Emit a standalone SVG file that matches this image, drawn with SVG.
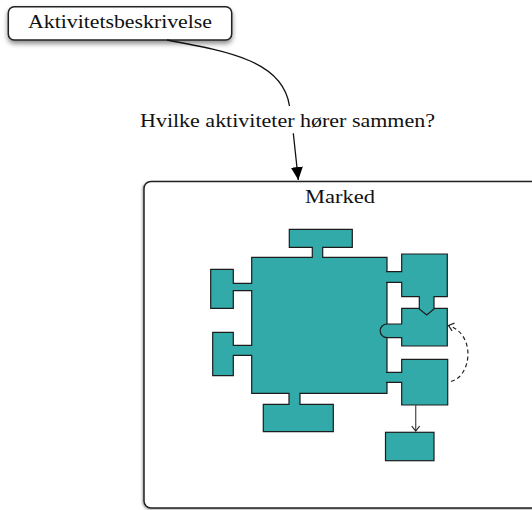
<svg xmlns="http://www.w3.org/2000/svg" width="532" height="510" viewBox="0 0 532 510">
  <style>
    .lbl { font-family: "Liberation Serif", "Times New Roman", serif; fill: #111; }
    .box { fill: #fff; stroke: #222; stroke-width: 1.5; }
    .piece { fill: #33aaaa; stroke: #1c1c1c; stroke-width: 1.2; stroke-linejoin: miter; }
    .conn { fill: none; stroke: #111; stroke-width: 1.3; }
    .dash { fill: none; stroke: #222; stroke-width: 1.2; stroke-dasharray: 4 3; }
    .thin { fill: none; stroke: #555; stroke-width: 1.3; }
  </style>
  <defs>
    <filter id="shadow" x="-10%" y="-20%" width="120%" height="160%">
      <feDropShadow dx="0" dy="3" stdDeviation="2.5" flood-color="#000" flood-opacity="0.45"/>
    </filter>
    <filter id="softShadow" x="-5%" y="-5%" width="110%" height="110%">
      <feDropShadow dx="-1" dy="1" stdDeviation="1.2" flood-color="#000" flood-opacity="0.35"/>
    </filter>
    <marker id="solidHead" markerWidth="14" markerHeight="14" refX="13" refY="6" orient="auto" markerUnits="userSpaceOnUse">
      <path d="M0,0 L13,6 L0,12 Z" fill="#000"/>
    </marker>
    <marker id="openHead" markerWidth="10" markerHeight="12" refX="6" refY="5" orient="auto" markerUnits="userSpaceOnUse">
      <path d="M1,1 L6,5 L1,9" fill="none" stroke="#222" stroke-width="1.2"/>
    </marker>
  </defs>

  <!-- market frame -->
  <g id="marked">
    <rect class="box" x="144" y="181.5" width="400" height="326.5" rx="7" filter="url(#softShadow)" stroke="#333"/>
    <text class="lbl" x="305" y="203" font-size="19" textLength="70" lengthAdjust="spacingAndGlyphs">Marked</text>
  </g>

  <!-- activity description node -->
  <g id="aktivitetsbeskrivelse">
    <rect class="box" x="8.3" y="6.7" width="223.4" height="33.3" rx="6" filter="url(#shadow)"/>
    <text class="lbl" x="28" y="27.5" font-size="18" textLength="184" lengthAdjust="spacingAndGlyphs">Aktivitetsbeskrivelse</text>
  </g>

  <!-- question label -->
  <g id="question">
    <text class="lbl" x="140" y="126.7" font-size="19" textLength="295" lengthAdjust="spacingAndGlyphs">Hvilke aktiviteter hører sammen?</text>
  </g>

  <!-- central activity block with its attached tabs -->
  <g id="main-block">
    <path class="piece" d="M251.7,257.3 H312.3 V247.3 H289.3 V229.3 H352.3 V247.3 H322.7 V257.3 H387 V393.3 H300 V404.3 H333.3 V431.7 H263.3 V404.3 H289 V393.3 H251.7 V355.3 H233.3 V375.7 H212.7 V332.3 H233.3 V345.3 H251.7 V290.7 H233.3 V308.3 H210.7 V269.3 H233.3 V283.3 H251.7 Z"/>
  </g>

  <!-- right-hand pieces -->
  <g id="piece-middle">
    <path class="piece" d="M401.7,308.3 H447.3 V346 H401.7 V337.7 H387 A6.85,6.85 0 0 1 387,324 H401.7 Z"/>
  </g>
  <g id="piece-top">
    <path class="piece" d="M386,271.7 H401.7 V254 H447.3 V296.7 H434 V309 L426.7,315 L419.3,309 V296.7 H401.7 V282.3 H386"/>
  </g>
  <g id="piece-lower">
    <path class="piece" d="M386,372.3 H401.7 V359.3 H447.7 V405 H401.7 V382.3 H386"/>
  </g>
  <g id="piece-bottom">
    <rect class="piece" x="385.5" y="432.3" width="48.5" height="28.4"/>
  </g>

  <!-- connectors -->
  <g id="connectors">
    <path class="conn" d="M167,40 C232,52 283,62 289.5,106"/>
    <path class="conn" d="M293.3,133.3 L298.3,180" marker-end="url(#solidHead)"/>
    <path class="thin" d="M415.7,405 V431" marker-end="url(#openHead)"/>
    <path class="dash" d="M451,381.5 C472,376 476,334 448.5,325.5" marker-end="url(#openHead)"/>
  </g>
</svg>
